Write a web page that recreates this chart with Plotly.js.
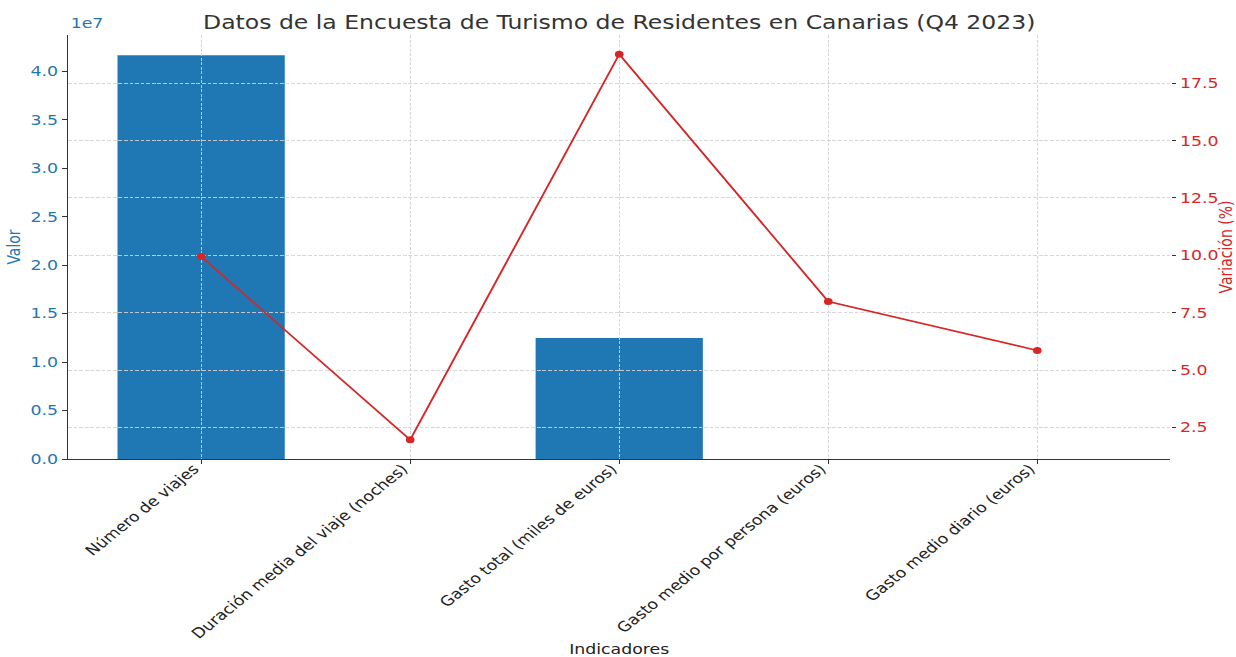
<!DOCTYPE html>
<html>
<head>
<meta charset="utf-8">
<script src="https://cdn.plot.ly/plotly-3.0.1.min.js"></script>
<style>
html,body{margin:0;padding:0;background:#fff;overflow:hidden;width:1236px;height:657px}
#chart{width:997px;height:657px;transform:scaleX(1.2397);transform-origin:0 0}
</style>
</head>
<body>
<div id="chart"></div>
<script>
const categories = [
  "Número de viajes",
  "Duración media del viaje (noches)",
  "Gasto total (miles de euros)",
  "Gasto medio por persona (euros)",
  "Gasto medio diario (euros)"
];
const valores = [41650000, 9, 12470000, 300, 35];
const variacion = [9.95, 1.97, 18.76, 7.99, 5.86];
const leftTickVals = [0, 5e6, 1e7, 1.5e7, 2e7, 2.5e7, 3e7, 3.5e7, 4e7];
const leftTickText = ["0.0", "0.5", "1.0", "1.5", "2.0", "2.5", "3.0", "3.5", "4.0"];
const rightTickVals = [2.5, 5, 7.5, 10, 12.5, 15, 17.5];
const rightTickText = ["2.5", "5.0", "7.5", "10.0", "12.5", "15.0", "17.5"];

const BLUE = "#1f77b4", RED = "#d62728";
const FONT = "DejaVu Sans, sans-serif";
const GRIDC = "#d2d2d2", GRIDW = 0.8, GRIDD = "3px,1.5px";
const XRANGE = [-0.636, 4.636], LRANGE = [0, 4.373e7], RRANGE = [1.13, 19.6];

const traces = [
  {
    type: "bar", x: categories, y: valores, width: 0.8,
    marker: {color: BLUE}, xaxis: "x", yaxis: "y", name: "Valor"
  },
  {
    type: "scatter", mode: "lines+markers", x: categories, y: variacion, xaxis: "x2", yaxis: "y2",
    line: {color: RED, width: 1.6}, marker: {color: RED, size: 7}, name: "Variación (%)"
  }
];

const layout = {
  width: 997, height: 657,
  margin: {l: 55, r: 53, t: 35, b: 198},
  paper_bgcolor: "#fff", plot_bgcolor: "rgba(0,0,0,0)",
  showlegend: false,
  font: {family: FONT, size: 14, color: "#222"},
  title: {text: "Datos de la Encuesta de Turismo de Residentes en Canarias (Q4 2023)",
          font: {family: FONT, size: 19, color: "#333"}, x: 0.5, xref: "paper", y: 0.966, yanchor: "middle"},
  // bottom subplot: bars
  xaxis: {
    type: "category", range: XRANGE, domain: [0, 1], anchor: "y", tickangle: -45,
    tickfont: {family: FONT, size: 14, color: "#222"},
    ticks: "outside", ticklen: 4, tickcolor: "#333",
    ticklabelshift: -6, ticklabelstandoff: -9,
    showline: true, linecolor: "#333", linewidth: 1.3,
    showgrid: false, zeroline: false,
    title: {text: "Indicadores", font: {family: FONT, size: 14, color: "#222"}, standoff: 8}
  },
  yaxis: {
    range: LRANGE, domain: [0, 1], anchor: "x", tickvals: leftTickVals, ticktext: leftTickText,
    tickfont: {family: FONT, size: 14, color: BLUE},
    ticks: "outside", ticklen: 4, tickcolor: "#333",
    showline: true, linecolor: "#333", linewidth: 1.3,
    showgrid: false, zeroline: false,
    title: {text: "Valor", font: {family: FONT, size: 14, color: BLUE}, standoff: 4}
  },
  // top subplot (same area): grid lines above the bars, line on top
  xaxis2: {
    type: "category", range: XRANGE, domain: [0, 1], anchor: "y2",
    showticklabels: false, ticks: "", showline: false, zeroline: false,
    showgrid: true, gridcolor: GRIDC, gridwidth: GRIDW, griddash: GRIDD
  },
  yaxis2: {
    side: "right", anchor: "x2", domain: [0, 1], range: RRANGE,
    tickvals: rightTickVals, ticktext: rightTickText,
    tickfont: {family: FONT, size: 14, color: RED},
    ticks: "outside", ticklen: 4, tickcolor: "#333",
    showline: false, zeroline: false,
    showgrid: true, gridcolor: GRIDC, gridwidth: GRIDW, griddash: GRIDD,
    title: {text: "Variación (%)", font: {family: FONT, size: 14, color: RED}, standoff: 11}
  },
  yaxis3: {
    overlaying: "y2", anchor: "x2", side: "left", range: LRANGE, tickvals: leftTickVals,
    showticklabels: false, ticks: "", showline: false, zeroline: false,
    showgrid: true, gridcolor: GRIDC, gridwidth: GRIDW, griddash: GRIDD
  },
  annotations: [
    {text: "1e7", xref: "paper", yref: "paper", x: 0, y: 1, xanchor: "left", yanchor: "bottom",
     yshift: 2, showarrow: false, font: {family: FONT, size: 14, color: BLUE}}
  ]
};

Plotly.newPlot("chart", traces, layout, {displayModeBar: false, staticPlot: true});
</script>
</body>
</html>
